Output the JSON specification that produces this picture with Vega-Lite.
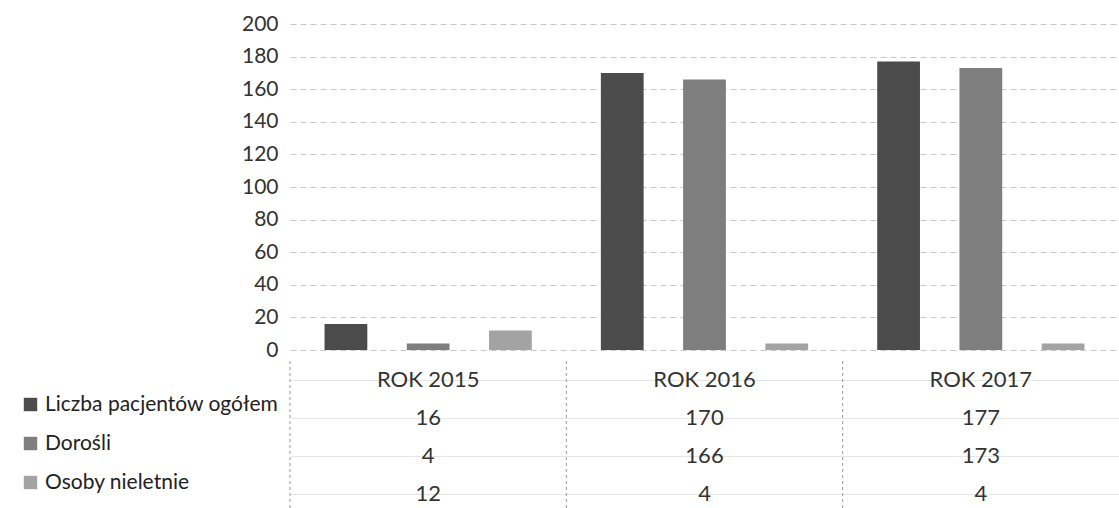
{
  "$schema": "https://vega.github.io/schema/vega-lite/v6.json",
  "padding": {"left": 20, "top": 13, "right": 0, "bottom": 0},
  "config": {"font": "Lato", "view": {"stroke": null}, "background": "white"},
  "datasets": {
    "bars": [
      {"year": "ROK 2015", "series": "Liczba pacjentów ogółem", "value": 16},
      {"year": "ROK 2015", "series": "Dorośli", "value": 4},
      {"year": "ROK 2015", "series": "Osoby nieletnie", "value": 12},
      {"year": "ROK 2016", "series": "Liczba pacjentów ogółem", "value": 170},
      {"year": "ROK 2016", "series": "Dorośli", "value": 166},
      {"year": "ROK 2016", "series": "Osoby nieletnie", "value": 4},
      {"year": "ROK 2017", "series": "Liczba pacjentów ogółem", "value": 177},
      {"year": "ROK 2017", "series": "Dorośli", "value": 173},
      {"year": "ROK 2017", "series": "Osoby nieletnie", "value": 4}
    ],
    "years": [
      {"year": "ROK 2015"},
      {"year": "ROK 2016"},
      {"year": "ROK 2017"}
    ]
  },
  "vconcat": [
    {
      "width": 829,
      "height": 326,
      "data": {"name": "bars"},
      "mark": {"type": "bar"},
      "encoding": {
        "x": {"field": "year", "type": "nominal", "sort": null, "scale": {"paddingInner": 0, "paddingOuter": 0}, "axis": null},
        "xOffset": {"field": "series", "type": "nominal", "sort": ["Liczba pacjentów ogółem", "Dorośli", "Osoby nieletnie"], "scale": {"paddingInner": 0.48, "paddingOuter": 0.42}},
        "y": {
          "field": "value", "type": "quantitative",
          "scale": {"domain": [0, 200]},
          "axis": {"values": [0, 20, 40, 60, 80, 100, 120, 140, 160, 180, 200], "title": null, "grid": true, "domain": false, "ticks": false, "labelFontSize": 21, "labelColor": "#333", "labelPadding": 12, "gridColor": "#c8c8c8", "gridDash": [6, 4]}
        },
        "color": {
          "field": "series", "type": "nominal",
          "scale": {"domain": ["Liczba pacjentów ogółem", "Dorośli", "Osoby nieletnie"], "range": ["#4b4b4b", "#7e7e7e", "#a3a3a3"]},
          "legend": {"orient": "none", "legendX": -270, "legendY": 370, "title": null, "symbolType": "square", "symbolSize": 180, "symbolStrokeWidth": 0, "labelFontSize": 21, "labelColor": "#222", "rowPadding": 17, "labelOffset": 4, "labelLimit": 400}
        }
      }
    },
    {
      "width": 829,
      "height": 152,
      "layer": [
        {
          "data": {"name": "years"},
          "mark": {"type": "rule", "color": "#999", "strokeDash": [3, 3], "strokeWidth": 1},
          "encoding": {"x": {"field": "year", "type": "nominal", "bandPosition": 0}}
        },
        {
          "data": {"name": "years"},
          "mark": {"type": "text", "fontSize": 22, "color": "#333"},
          "encoding": {
            "x": {"field": "year", "type": "nominal"},
            "y": {"datum": "header", "type": "nominal"},
            "text": {"field": "year"}
          }
        },
        {
          "data": {"name": "bars"},
          "mark": {"type": "text", "fontSize": 22, "color": "#333"},
          "encoding": {
            "x": {"field": "year", "type": "nominal"},
            "y": {"field": "series", "type": "nominal"},
            "text": {"field": "value"}
          }
        }
      ],
      "encoding": {
        "x": {"field": "year", "type": "nominal", "sort": null, "scale": {"paddingInner": 0, "paddingOuter": 0}, "axis": null},
        "y": {"scale": {"domain": ["header", "Liczba pacjentów ogółem", "Dorośli", "Osoby nieletnie"]}, "axis": {"labels": false, "ticks": false, "domain": false, "grid": true, "bandPosition": 0, "gridColor": "#e6e6e6", "title": null}}
      }
    }
  ],
  "spacing": 0,
  "resolve": {"scale": {"x": "independent", "y": "independent"}}
}
